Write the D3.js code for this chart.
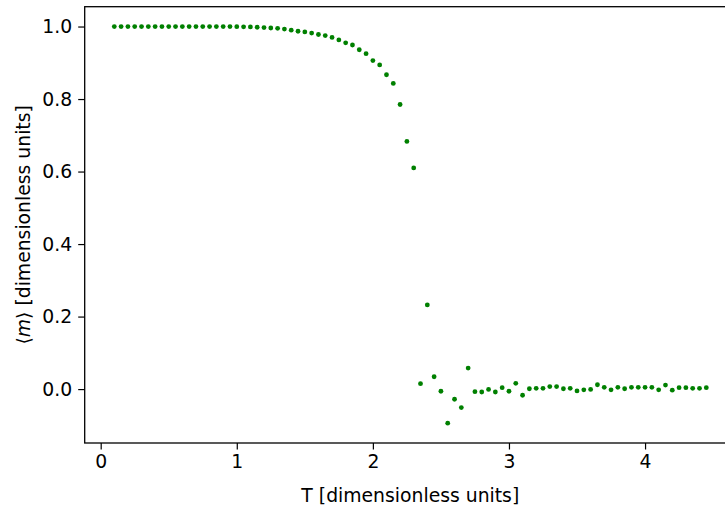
<!DOCTYPE html>
<html>
<head>
<meta charset="utf-8">
<script src="https://cdn.jsdelivr.net/npm/d3@7"></script>
<style>
  html, body { margin: 0; padding: 0; background: #fff; }
  svg { display: block; font-family: "DejaVu Sans", sans-serif; }
</style>
</head>
<body>
<svg id="chart" width="725" height="510"></svg>
<script>
// ---- Data ----
const temperatures = [
  0.10, 0.15, 0.20, 0.25, 0.30, 0.35, 0.40, 0.45, 0.50, 0.55,
  0.60, 0.65, 0.70, 0.75, 0.80, 0.85, 0.90, 0.95, 1.00, 1.05,
  1.10, 1.15, 1.20, 1.25, 1.30, 1.35, 1.40, 1.45, 1.50, 1.55,
  1.60, 1.65, 1.70, 1.75, 1.80, 1.85, 1.90, 1.95, 2.00, 2.05,
  2.10, 2.15, 2.20, 2.25, 2.30, 2.35, 2.40, 2.45, 2.50, 2.55,
  2.60, 2.65, 2.70, 2.75, 2.80, 2.85, 2.90, 2.95, 3.00, 3.05,
  3.10, 3.15, 3.20, 3.25, 3.30, 3.35, 3.40, 3.45, 3.50, 3.55,
  3.60, 3.65, 3.70, 3.75, 3.80, 3.85, 3.90, 3.95, 4.00, 4.05,
  4.10, 4.15, 4.20, 4.25, 4.30, 4.35, 4.40, 4.45
];
const magnetization = [
  1.000, 1.000, 1.000, 1.000, 1.000, 1.000, 1.000, 1.000, 1.000, 1.000,
  1.000, 1.000, 1.000, 1.000, 1.000, 1.000, 1.000, 1.000, 0.9995, 0.9993,
  0.999, 0.998, 0.997, 0.996, 0.995, 0.993, 0.990, 0.987, 0.985, 0.982,
  0.978, 0.975, 0.970, 0.963, 0.955, 0.949, 0.936, 0.925, 0.906, 0.894,
  0.867, 0.843, 0.785, 0.683, 0.610, 0.015, 0.232, 0.034, -0.006, -0.094,
  -0.028, -0.051, 0.058, -0.007, -0.008, -0.001, -0.008, 0.004, -0.006, 0.016,
  -0.017, 0.001, 0.002, 0.002, 0.007, 0.007, 0.001, 0.002, -0.005, -0.002,
  -0.001, 0.012, 0.005, -0.002, 0.005, 0.001, 0.005, 0.005, 0.005, 0.005,
  -0.002, 0.011, -0.003, 0.004, 0.004, 0.002, 0.002, 0.004
];
const xTicks = [0, 1, 2, 3, 4];
const yTicks = [0.0, 0.2, 0.4, 0.6, 0.8, 1.0];
const xLabel = "T [dimensionless units]";
const yLabelParts = [
  { text: "\u27E8", italic: false },
  { text: "m", italic: true },
  { text: "\u27E9 [dimensionless units]", italic: false }
];

// ---- Layout ----
const plot = { left: 84.7, right: 735.9, top: 6.7, bottom: 443 };
const fontSize = 18.8;
const dotColor = "#008000";

const points = temperatures.map((t, i) => ({ t, m: magnetization[i] }));

function padded(extent) {
  const r = extent[1] - extent[0];
  return [extent[0] - 0.05 * r, extent[1] + 0.05 * r];
}

const x = d3.scaleLinear()
  .domain(padded(d3.extent(temperatures)))
  .range([plot.left, plot.right]);
const y = d3.scaleLinear()
  .domain(padded(d3.extent(magnetization)))
  .range([plot.bottom, plot.top]);

const svg = d3.select("#chart");

// clip for points
svg.append("defs").append("clipPath").attr("id", "clip")
  .append("rect")
  .attr("x", plot.left).attr("y", plot.top)
  .attr("width", plot.right - plot.left).attr("height", plot.bottom - plot.top);

svg.append("g")
  .attr("clip-path", "url(#clip)")
  .selectAll("circle")
  .data(points)
  .join("circle")
  .attr("cx", d => x(d.t))
  .attr("cy", d => y(d.m))
  .attr("r", 2.4)
  .attr("fill", dotColor);

// axes
const xAxis = d3.axisBottom(x)
  .tickValues(xTicks)
  .tickFormat(d3.format("d"))
  .tickSizeInner(6.5)
  .tickSizeOuter(0)
  .tickPadding(5);

const yAxis = d3.axisLeft(y)
  .tickValues(yTicks)
  .tickFormat(d3.format(".1f"))
  .tickSizeInner(6.5)
  .tickSizeOuter(0)
  .tickPadding(6);

const gx = svg.append("g")
  .attr("transform", `translate(0,${plot.bottom})`)
  .call(xAxis);
const gy = svg.append("g")
  .attr("transform", `translate(${plot.left},0)`)
  .call(yAxis);

[gx, gy].forEach(g => {
  g.select(".domain").remove();
  g.selectAll(".tick line").attr("stroke", "#000").attr("stroke-width", 1.2);
  g.selectAll(".tick text")
    .attr("fill", "#000")
    .style("font-size", fontSize + "px")
    .style("font-family", "'DejaVu Sans', sans-serif");
});
gx.selectAll(".tick text").attr("dy", "0.74em");

// spines
svg.append("rect")
  .attr("x", plot.left).attr("y", plot.top)
  .attr("width", plot.right - plot.left)
  .attr("height", plot.bottom - plot.top)
  .attr("fill", "none")
  .attr("stroke", "#000")
  .attr("stroke-width", 1.3);

// axis labels
svg.append("text")
  .attr("x", (plot.left + plot.right) / 2)
  .attr("y", 501.5)
  .attr("text-anchor", "middle")
  .style("font-size", fontSize + "px")
  .text(xLabel);

const yl = svg.append("text")
  .attr("transform", `translate(29.5,${(plot.top + plot.bottom) / 2}) rotate(-90)`)
  .attr("text-anchor", "middle")
  .style("font-size", fontSize + "px");
yl.selectAll("tspan")
  .data(yLabelParts)
  .join("tspan")
  .style("font-style", d => d.italic ? "italic" : "normal")
  .text(d => d.text);
</script>
</body>
</html>
